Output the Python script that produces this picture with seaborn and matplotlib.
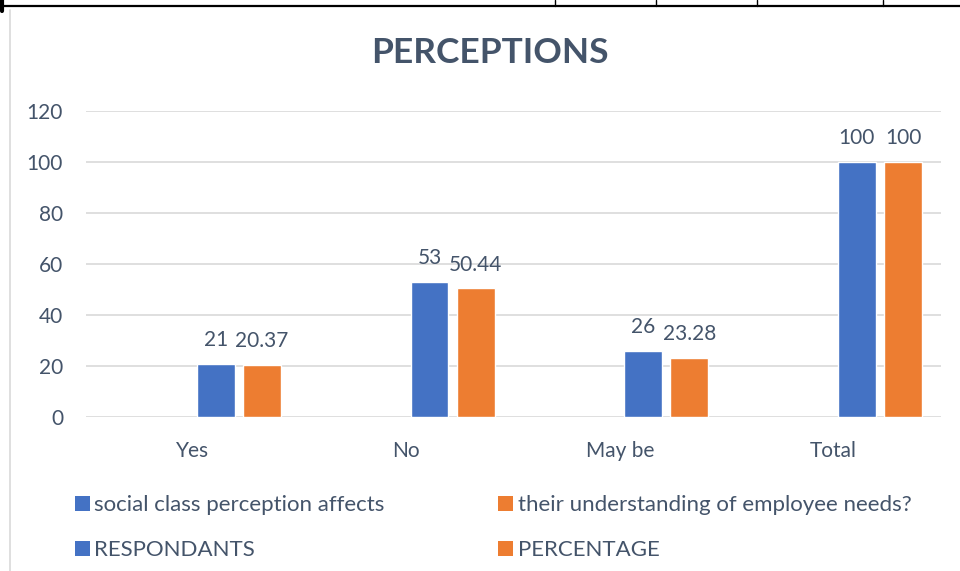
import numpy as np
import pandas as pd
import matplotlib
matplotlib.use("Agg")
import matplotlib.pyplot as plt
from matplotlib.patches import Patch
from matplotlib.lines import Line2D
import seaborn as sns

# ---- data ----
categories = ["Yes", "No", "May be", "Total"]
series_names = ["social class perception affects",
                "their understanding of employee needs?",
                "RESPONDANTS", "PERCENTAGE"]
social_class = [np.nan, np.nan, np.nan, np.nan]
understanding = [np.nan, np.nan, np.nan, np.nan]
respondants = [21, 53, 26, 100]
percentage = [20.37, 50.44, 23.28, 100]
y_ticks = [0, 20, 40, 60, 80, 100, 120]

BLUE = "#4472C4"
ORANGE = "#ED7D31"
TEXT = "#44546A"
GRID = "#D9D9D9"

rows = []
for name, vals in zip(series_names, [social_class, understanding, respondants, percentage]):
    for c, v in zip(categories, vals):
        rows.append({"category": c, "series": name, "value": v})
df = pd.DataFrame(rows)

sns.set_theme(style="white")
plt.rcParams["font.family"] = ["Lato", "DejaVu Sans"]
FS = 15
LFS = 16

W, H = 960, 571
fig = plt.figure(figsize=(W / 100, H / 100), dpi=100)
ax = fig.add_axes([86 / W, 1 - 417.3 / H, (940.5 - 86) / W, (417.3 - 110.7) / H])

sns.barplot(data=df, x="category", y="value", hue="series",
            order=categories, hue_order=series_names,
            palette=[BLUE, ORANGE, BLUE, ORANGE],
            width=0.865, gap=0.18, saturation=1, legend=False,
            errorbar=None, ax=ax)

# data labels
label_sets = {2: respondants, 3: percentage}
for idx, cont in enumerate(ax.containers):
    if idx in label_sets:
        ax.bar_label(cont, labels=[f"{v:g}" for v in label_sets[idx]],
                     padding=10, fontsize=FS, color=TEXT)

ax.set_ylim(0, 120)
ax.set_xlim(-0.5, len(categories) - 0.5)
ax.set_yticks(y_ticks)
ax.set_xlabel("")
ax.set_ylabel("")
ax.yaxis.grid(True, color=GRID, linewidth=1.2)
ax.set_axisbelow(True)
for s in ax.spines.values():
    s.set_visible(False)
ax.tick_params(axis="y", length=0, pad=16.5, labelsize=FS, labelcolor=TEXT)
ax.tick_params(axis="x", length=0, pad=17, labelsize=FS, labelcolor=TEXT)

# title
fig.text(490 / W, 1 - 53 / H, "PERCEPTIONS", ha="center", va="center",
         fontsize=25.5, fontweight="bold", color=TEXT)

# legend (column-wise fill: col1 = entries 0,2 ; col2 = entries 1,3)
colors = [BLUE, ORANGE, BLUE, ORANGE]
order = [0, 2, 1, 3]
handles = [Patch(facecolor=colors[i], edgecolor="none") for i in order]
labels = [series_names[i] for i in order]

renderer = fig.canvas.get_renderer()
t = fig.text(0, 0, series_names[0], fontsize=LFS)
tw = t.get_window_extent(renderer).width
t.remove()
fs_px = LFS * 100 / 72
hl, htp = 15 / fs_px, 4.5 / fs_px
col1_w = hl * fs_px + htp * fs_px + tw
colspace = (498 - 75 - col1_w) / fs_px

leg = fig.legend(handles, labels, ncol=2, loc="upper left",
                 bbox_to_anchor=(75 / W, 1 - 495 / H),
                 frameon=False, fontsize=LFS, labelcolor=TEXT,
                 handlelength=hl, handleheight=14.5 / fs_px, handletextpad=htp,
                 columnspacing=colspace, labelspacing=1.12,
                 borderpad=0, borderaxespad=0)

# surrounding page decorations
fig.add_artist(Line2D([0, 1], [1 - 5.5 / H, 1 - 5.5 / H], color="black", lw=1.6,
                      transform=fig.transFigure))
for xp in [555, 656, 757, 883]:
    fig.add_artist(Line2D([xp / W, xp / W], [1, 1 - 5.5 / H], color="black", lw=1,
                          transform=fig.transFigure))
fig.add_artist(Line2D([2 / W, 2 / W], [1, 1 - 11 / H], color="black", lw=3,
                      transform=fig.transFigure))
fig.add_artist(Line2D([9.5 / W, 9.5 / W], [1 - 10 / H, 0], color=GRID, lw=1.2,
                      transform=fig.transFigure))

fig.savefig("out.png", dpi=100)
